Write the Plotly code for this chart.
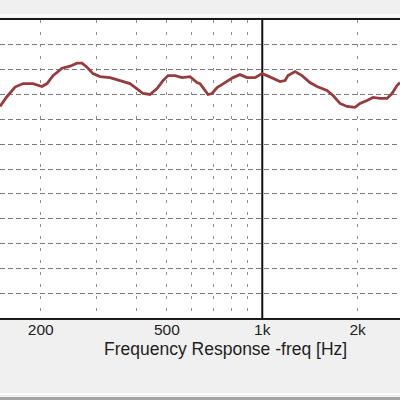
import plotly.graph_objects as go

# Frequency response (Hz) and level (dB)
freq_hz = [148.8, 156.2, 166, 175.9, 189.1, 201.9, 209.4, 218.7, 233.5, 247.5,
           260.4, 270, 280, 292.4, 307.7, 330.8, 355.9, 382.5, 405.5, 420.5,
           442.4, 465.6, 486.3, 504.3, 530.6, 558.4, 591.6, 622.5, 636.3, 659.8,
           674.4, 694.3, 720, 762.8, 808.4, 850.7, 894.9, 948.7, 998, 1035,
           1081, 1138, 1180, 1206, 1269, 1335, 1414, 1488, 1600, 1672,
           1759, 1851, 1961, 2034, 2140, 2236, 2352, 2475, 2566, 2661, 2720]
level_db = [72.6, 74.5, 76.5, 77.2, 77.2, 76.6, 77.2, 78.8, 80.3, 80.7,
            81.3, 81.3, 80.5, 79.2, 78.6, 78.4, 77.8, 77.2, 76.0, 75.2,
            75.0, 76.2, 77.8, 78.8, 78.8, 78.4, 78.6, 77.4, 77.2, 75.8,
            75.0, 75.2, 76.4, 77.4, 78.4, 79.0, 78.4, 78.4, 79.2, 78.8,
            78.2, 77.6, 77.8, 78.8, 79.6, 78.8, 77.4, 76.6, 75.8, 74.8,
            73.2, 72.6, 72.4, 73.2, 73.8, 74.4, 74.2, 74.2, 75.2, 76.8, 77.4]

major_ticks = [200, 500, 1000, 2000]
major_text = ["200", "500", "1k", "2k"]
dashed_grid = [200, 300, 400, 500, 600, 700, 800, 900, 2000]
y_range = [30, 90]
x_title = "Frequency Response -freq [Hz]"

fig = go.Figure()
fig.add_trace(go.Scatter(x=freq_hz, y=level_db, mode="lines",
                         line=dict(color="#963c3f", width=2.8),
                         hoverinfo="skip", showlegend=False))

fig.update_layout(
    width=400, height=400,
    margin=dict(l=0, r=0, t=20, b=82),
    paper_bgcolor="#f0f0f0",
    plot_bgcolor="#ffffff",
    font=dict(family="Liberation Sans, Arial, sans-serif", color="#1e1e1e"),
    xaxis=dict(
        type="log", range=[2.1726, 3.4345],
        tickmode="array", tickvals=major_ticks, ticktext=major_text,
        tickfont=dict(size=15.5), ticks="", ticklabelstandoff=-3,
        showgrid=False,
        minor=dict(tickvals=dashed_grid, showgrid=True, gridcolor="#909090",
                   griddash="3px,9px", gridwidth=1, ticks=""),
        showline=True, linecolor="#1a1a1a", linewidth=1.5, mirror=True,
        zeroline=False,
    ),
    yaxis=dict(
        range=y_range, dtick=5, showticklabels=False, ticks="",
        showgrid=True, gridcolor="#7a7a7a", griddash="5px,3px", gridwidth=1,
        zeroline=False, showline=False,
    ),
    shapes=[
        dict(type="line", xref="x", yref="paper", x0=1000, x1=1000, y0=0, y1=1,
             line=dict(color="#111111", width=2), layer="between"),
        dict(type="rect", xref="paper", yref="paper", x0=0, x1=1,
             y0=1.0 + 3 / 298, y1=1.0 + 6 / 298, line=dict(width=0),
             fillcolor="#fafafa", layer="below"),
        dict(type="rect", xref="paper", yref="paper", x0=0, x1=1,
             y0=-(77 / 298), y1=-(75 / 298), line=dict(width=0),
             fillcolor="#ffffff", layer="below"),
        dict(type="rect", xref="paper", yref="paper", x0=0, x1=1,
             y0=-(82 / 298), y1=-(79 / 298), line=dict(width=0),
             fillcolor="#a4a4a4", layer="below"),
    ],
    annotations=[
        dict(text=x_title, xref="paper", yref="paper", x=0.565, y=-(31 / 298),
             xanchor="center", yanchor="middle", showarrow=False,
             font=dict(size=17.5, color="#1e1e1e")),
    ],
)

fig.write_html("out.html")
